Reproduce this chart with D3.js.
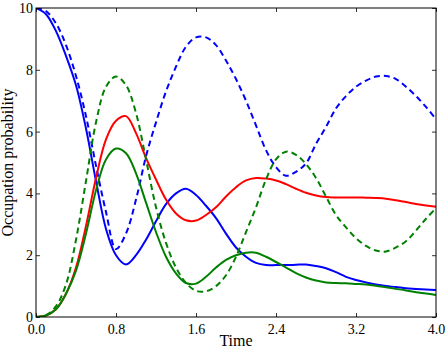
<!DOCTYPE html>
<html>
<head>
<meta charset="utf-8">
<script src="https://cdn.jsdelivr.net/npm/d3@7"></script>
<style>
  html, body { margin: 0; padding: 0; background: #fff; }
  svg { display: block; }
  text { font-family: "Liberation Serif", "DejaVu Serif", serif; fill: #000; }
</style>
</head>
<body>
<svg id="chart" width="447" height="349"></svg>
<script>
// ---- data ----
const time = [0,0.1,0.2,0.3,0.4,0.5,0.6,0.7,0.8,0.9,1.0,1.1,1.2,1.3,1.4,1.5,1.6,1.7,1.8,1.9,2.0,
              2.1,2.2,2.3,2.4,2.5,2.6,2.7,2.8,2.9,3.0,3.1,3.2,3.3,3.4,3.5,3.6,3.7,3.8,3.9,4.0];

const blueSolid = [10,9.8,9.25,8.45,7.5,6.1,4.4,2.85,2.0,1.7,2.0,2.5,3.1,3.65,4.0,4.15,3.95,3.6,3.2,2.7,2.25,
                   1.95,1.75,1.68,1.68,1.68,1.69,1.7,1.65,1.58,1.45,1.3,1.2,1.12,1.05,1.0,0.97,0.93,0.91,0.89,0.87];
const blueDashed = [10,9.9,9.5,8.8,7.8,6.5,4.9,3.4,2.2,2.7,3.8,5.2,6.3,7.3,8.1,8.75,9.05,9.05,8.8,8.3,7.7,
                    7.0,6.2,5.4,4.85,4.57,4.7,4.97,5.6,6.15,6.75,7.15,7.45,7.65,7.78,7.8,7.7,7.45,7.15,6.8,6.4];
const redSolid = [0,0.05,0.25,0.75,1.6,2.95,4.5,5.75,6.35,6.5,5.95,5.15,4.45,3.8,3.35,3.13,3.12,3.3,3.55,3.9,4.2,
                  4.42,4.5,4.48,4.42,4.3,4.15,4.02,3.93,3.88,3.87,3.87,3.87,3.86,3.85,3.83,3.78,3.72,3.66,3.61,3.57];
const greenSolid = [0,0.05,0.25,0.75,1.5,2.7,4.1,5.1,5.45,5.3,4.65,3.7,2.75,1.95,1.41,1.1,1.08,1.3,1.6,1.85,2.0,
                    2.08,2.08,1.95,1.78,1.6,1.42,1.28,1.18,1.12,1.1,1.09,1.07,1.05,1.01,0.96,0.91,0.86,0.8,0.76,0.71];
const greenDashed = [0,0.06,0.35,1.05,2.5,4.4,6.3,7.45,7.78,7.5,6.6,5.1,3.55,2.4,1.6,1.1,0.85,0.83,1.0,1.35,1.95,
                     2.75,3.55,4.45,5.1,5.35,5.25,4.95,4.5,3.9,3.3,2.9,2.55,2.3,2.15,2.12,2.25,2.45,2.8,3.18,3.52];

const xTicks = [0.0,0.8,1.6,2.4,3.2,4.0];
const yTicks = [0,2,4,6,8,10];
const xLabel = "Time";
const yLabel = "Occupation probability";

const series = [
  {values: blueSolid,  color: "#0000ff", dash: null},
  {values: blueDashed, color: "#0000ff", dash: "6,4"},
  {values: redSolid,   color: "#ff0000", dash: null},
  {values: greenSolid, color: "#008000", dash: null},
  {values: greenDashed,color: "#008000", dash: "6,4"}
];

// ---- layout ----
const L = 36, R = 436, T = 8, B = 317;
const svg = d3.select("#chart");
const x = d3.scaleLinear().domain([0, 4]).range([L, R]);
const y = d3.scaleLinear().domain([0, 10]).range([B, T]);

svg.append("defs").append("clipPath").attr("id", "clip")
  .append("rect").attr("x", L).attr("y", T).attr("width", R - L).attr("height", B - T);

const line = d3.line()
  .x((d, i) => x(time[i]))
  .y(d => y(d))
  .curve(d3.curveCatmullRom.alpha(0.5));

const g = svg.append("g").attr("clip-path", "url(#clip)");
series.forEach(s => {
  g.append("path")
    .attr("d", line(s.values))
    .attr("fill", "none")
    .attr("stroke", s.color)
    .attr("stroke-width", 2)
    .attr("stroke-dasharray", s.dash)
    .attr("stroke-linejoin", "round");
});

// axes: inward ticks on all four sides, labels on bottom/left
const fmtX = d3.format(".1f");
const axB = svg.append("g").attr("transform", `translate(0,${B})`)
  .call(d3.axisBottom(x).tickValues(xTicks).tickFormat(fmtX).tickSizeInner(-4).tickSizeOuter(0).tickPadding(7));
const axT = svg.append("g").attr("transform", `translate(0,${T})`)
  .call(d3.axisTop(x).tickValues(xTicks).tickFormat("").tickSizeInner(-4).tickSizeOuter(0));
const axL = svg.append("g").attr("transform", `translate(${L},0)`)
  .call(d3.axisLeft(y).tickValues(yTicks).tickFormat(d3.format("d")).tickSizeInner(-4).tickSizeOuter(0).tickPadding(3));
const axR = svg.append("g").attr("transform", `translate(${R},0)`)
  .call(d3.axisRight(y).tickValues(yTicks).tickFormat("").tickSizeInner(-4).tickSizeOuter(0));

[axB, axT, axL, axR].forEach(a => {
  a.select(".domain").remove();
  a.selectAll(".tick line").attr("stroke", "#000").attr("stroke-width", 0.8);
  a.selectAll("text").attr("font-size", 14).attr("font-family", '"Liberation Serif", serif').attr("fill", "#000");
});

svg.append("rect").attr("x", L).attr("y", T).attr("width", R - L).attr("height", B - T)
  .attr("fill", "none").attr("stroke", "#000").attr("stroke-width", 1);

svg.append("text").attr("x", (L + R) / 2).attr("y", 346)
  .attr("text-anchor", "middle").attr("font-size", 16).text(xLabel);
svg.append("text").attr("transform", `translate(13,${(T + B) / 2}) rotate(-90)`)
  .attr("text-anchor", "middle").attr("font-size", 16).text(yLabel);
</script>
</body>
</html>
